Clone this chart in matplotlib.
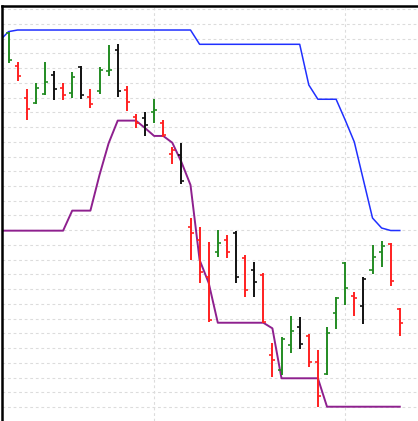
import matplotlib
matplotlib.use("Agg")
import matplotlib.pyplot as plt

# OHLC bars (price units), one entry per trading day
opens = [45.39, 43.15, 40.98, 40.64, 41.25, 42.54, 41.66, 41.32, 43.08, 41.05,
         41.45, 42.81, 44.24, 41.52, 39.69, 39.62, 40.03, 39.28, 37.18, 37.11,
         32.22, 31.34, 28.83, 30.52, 31.34, 31.81, 30.12, 29.30, 28.96, 23.53,
         22.51, 24.21, 25.43, 24.82, 23.05, 22.24, 26.38, 29.78, 27.54, 26.86,
         29.30, 30.52, 31.07, 26.65]
highs = [45.48, 43.42, 41.59, 42.00, 43.42, 42.81, 42.00, 42.74, 43.15, 41.59,
         43.08, 44.58, 44.64, 41.79, 39.89, 40.03, 40.91, 39.48, 37.65, 37.92,
         32.83, 32.22, 31.20, 32.02, 31.68, 31.95, 30.32, 29.84, 29.10, 24.34,
         24.75, 26.18, 26.11, 24.96, 23.87, 25.43, 27.47, 29.84, 27.81, 28.83,
         31.00, 31.27, 31.13, 26.72]
lows = [43.35, 42.13, 39.48, 40.57, 41.18, 40.84, 40.84, 40.98, 40.91, 40.30,
        41.25, 42.47, 41.05, 40.09, 38.94, 38.40, 39.28, 38.33, 36.50, 35.14,
        29.98, 28.42, 25.77, 30.18, 30.12, 28.42, 27.47, 27.47, 25.70, 22.04,
        22.17, 23.67, 23.94, 22.72, 20.00, 22.17, 25.30, 26.92, 26.18, 25.63,
        29.03, 29.50, 28.21, 24.82]
closes = [43.56, 42.47, 40.23, 41.66, 42.06, 41.59, 41.18, 42.40, 41.18, 40.57,
          42.88, 42.88, 41.45, 40.71, 39.28, 39.14, 40.16, 38.47, 37.45, 35.34,
          31.81, 29.16, 25.91, 31.13, 30.52, 28.83, 27.94, 28.49, 25.77, 23.19,
          24.62, 25.16, 24.28, 23.05, 20.75, 25.02, 27.40, 28.08, 27.40, 28.69,
          30.18, 30.93, 28.55, 25.70]
colors = ["g", "r", "r", "g", "g", "k", "r", "g", "k", "r",
          "g", "g", "k", "r", "r", "k", "g", "r", "r", "k",
          "r", "r", "r", "g", "r", "k", "r", "k", "r", "r",
          "g", "g", "k", "r", "r", "g", "g", "g", "r", "k",
          "g", "g", "r", "r"]

# price channel, starting one day before the first visible bar
upper = [44.85, 45.48] + [45.59] * 20 + [44.62] * 12 + [41.86, 40.89, 40.89, 40.89,
         39.48, 37.99, 35.41, 32.83, 32.15, 31.98, 31.98]
lower = [31.97] * 8 + [33.33] * 3 + [35.75, 37.90, 39.44, 39.44, 39.44, 38.94,
         38.40, 38.40, 37.94, 36.63, 35.07, 29.98, 28.42] + [25.72] * 6 + [25.34] + \
        [21.95] * 5 + [20.02] * 9

month_starts = [16, 37]

color_map = {"g": "#228b22", "r": "#ff2020", "k": "#111111"}

fig = plt.figure(figsize=(4.18, 4.21), dpi=100)
ax = fig.add_axes([1.5 / 418, 0, 1 - 1.5 / 418, 1 - 6 / 421])

x = list(range(len(opens)))
xc = list(range(-1, len(opens)))

ax.plot(xc, upper, color="#2030ff", lw=1.1, zorder=2)
ax.plot(xc, lower, color="#8e208e", lw=1.4, zorder=2)

bar_cols = [color_map[c] for c in colors]
ax.vlines(x, lows, highs, colors=bar_cols, lw=1.4, zorder=3)
ax.hlines(opens, [i - 0.33 for i in x], x, colors=bar_cols, lw=1.2, zorder=3)
ax.hlines(closes, x, [i + 0.33 for i in x], colors=bar_cols, lw=1.2, zorder=3)

ax.set_xlim(-0.77, 45.0)
ax.set_ylim(19.05, 47.22)
ax.set_yticks(range(20, 48))
ax.set_xticks(month_starts)
ax.grid(True, color="#dcdcdc", lw=0.8, linestyle=(0, (2.5, 2.5)))
ax.set_axisbelow(True)
ax.tick_params(left=False, bottom=False, labelleft=False, labelbottom=False)

for side in ["right", "bottom"]:
    ax.spines[side].set_visible(False)
for side in ["top", "left"]:
    ax.spines[side].set_linewidth(1.8)
    ax.spines[side].set_color("black")

fig.savefig("out.png", dpi=100)
